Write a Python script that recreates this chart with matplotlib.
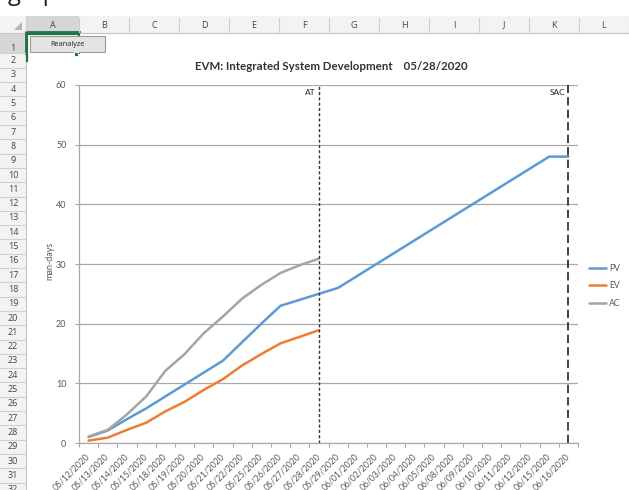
import matplotlib
import matplotlib.pyplot as plt
from matplotlib.patches import Rectangle, Polygon

matplotlib.use('Agg')

# data
dates = ["05/12/2020", "05/13/2020", "05/14/2020", "05/15/2020", "05/18/2020",
         "05/19/2020", "05/20/2020", "05/21/2020", "05/22/2020", "05/25/2020",
         "05/26/2020", "05/27/2020", "05/28/2020", "05/29/2020", "06/01/2020",
         "06/02/2020", "06/03/2020", "06/04/2020", "06/05/2020", "06/08/2020",
         "06/09/2020", "06/10/2020", "06/11/2020", "06/12/2020", "06/15/2020",
         "06/16/2020"]
pv = [1.0, 2.1, 4.0, 5.8, 7.8, 9.8, 11.8, 13.8, 16.9, 20.0, 23.0, 24.0, 25.0,
      26.0, 28.0, 30.0, 32.0, 34.0, 36.0, 38.0, 40.0, 42.0, 44.0, 46.0, 48.0, 48.0]
ev = [0.4, 0.9, 2.2, 3.4, 5.3, 6.9, 8.9, 10.7, 13.0, 14.9, 16.7, 17.8, 18.9]
ac = [1.1, 2.2, 4.8, 7.8, 12.1, 14.9, 18.4, 21.2, 24.2, 26.5, 28.5, 29.8, 30.9]
markers = {"AT": "05/28/2020", "SAC": "06/16/2020"}
yticks = [0, 10, 20, 30, 40, 50, 60]
col_letters = ["A", "B", "C", "D", "E", "F", "G", "H", "I", "J", "K", "L"]

W, H = 629, 490
fig = plt.figure(figsize=(W / 100, H / 100), dpi=100)
fig.patch.set_facecolor('white')

# --- spreadsheet backdrop, drawn in pixel coords ---
bg = fig.add_axes([0, 0, 1, 1])
bg.set_xlim(0, W)
bg.set_ylim(H, 0)
bg.axis('off')
bg.set_zorder(0)

hdr_top, hdr_bot = 16, 33
row1_bot = 53.5
row_h = 14.3
col_edges = [26, 79] + [79 + 50 * i for i in range(1, 12)]

# bit of page text cut off above the screenshot
bg.text(8, 0.5, "graph", fontsize=17, color='#222222', va='baseline', family='Open Sans')

bg.add_patch(Rectangle((0, hdr_top), W, hdr_bot - hdr_top, fc='#f3f3f3', ec='none'))
bg.add_patch(Rectangle((26, hdr_top), 53, hdr_bot - hdr_top, fc='#d6d6d6', ec='none'))
bg.plot([26, 79], [hdr_bot - 0.5, hdr_bot - 0.5], color='#217346', lw=2)
bg.plot([0, W], [hdr_bot, hdr_bot], color='#c6c6c6', lw=0.8)
bg.add_patch(Polygon([[14, 30], [22, 30], [22, 22]], closed=True, fc='#b5b5b5', ec='none'))
for x in col_edges:
    bg.plot([x, x], [hdr_top + 2, hdr_bot], color='#cfcfcf', lw=0.8)
for i, letter in enumerate(col_letters):
    xc = (col_edges[i] + col_edges[i + 1]) / 2
    bg.text(xc, 25, letter, ha='center', va='center', fontsize=6.5, color='#444444',
            family='Open Sans')

# row header column
bg.add_patch(Rectangle((0, hdr_bot), 26, H - hdr_bot, fc='#f3f3f3', ec='none'))
bg.add_patch(Rectangle((0, hdr_bot), 26, row1_bot - hdr_bot, fc='#d6d6d6', ec='none'))
bg.plot([26, 26], [hdr_bot, H], color='#c6c6c6', lw=0.8)
bg.plot([25.5, 25.5], [hdr_bot, row1_bot], color='#217346', lw=2)
bg.text(13, row1_bot - 5, "1", ha='center', va='center', fontsize=6.5, color='#444444',
        family='Open Sans')
bg.plot([0, 26], [row1_bot, row1_bot], color='#d0d0d0', lw=0.8)
for k in range(2, 33):
    top = row1_bot + (k - 2) * row_h
    bg.plot([0, 26], [top + row_h, top + row_h], color='#d0d0d0', lw=0.8)
    bg.text(13, top + row_h / 2, str(k), ha='center', va='center', fontsize=6.5,
            color='#444444', family='Open Sans')

# selected cell A1 and the macro button
bg.plot([26.5, 79, 79], [hdr_bot + 1, hdr_bot + 1, row1_bot], color='#217346', lw=1.6)
bg.plot([26.5, 26.5], [hdr_bot, row1_bot + 8], color='#217346', lw=1.6)
bg.add_patch(Rectangle((74, row1_bot - 1), 4, 4, fc='#217346', ec='white', lw=0.6, zorder=5))
bg.add_patch(Rectangle((30, 36), 75, 16, fc='#e4e4e4', ec='#9a9a9a', lw=0.8, zorder=4))
bg.text(67.5, 44, "Reanalyze", ha='center', va='center', fontsize=5.2, color='#222222',
        family='Open Sans', zorder=6)

# --- chart ---
ax = fig.add_axes([79 / W, (H - 443) / H, 499 / W, (443 - 85) / H])
ax.set_zorder(2)
ax.patch.set_alpha(0)

x_all = list(range(len(dates)))
ax.plot(x_all[:len(pv)], pv, color='#5b9bd5', lw=1.8, label='PV', solid_capstyle='round')
ax.plot(x_all[:len(ev)], ev, color='#ed7d31', lw=1.8, label='EV', solid_capstyle='round')
ax.plot(x_all[:len(ac)], ac, color='#a5a5a5', lw=1.8, label='AC', solid_capstyle='round')

at_x = dates.index(markers["AT"])
sac_x = dates.index(markers["SAC"])
ax.axvline(at_x, color='#333333', lw=1.0, linestyle=(0, (2.2, 1.6)))
ax.axvline(sac_x, color='#222222', lw=1.2, linestyle=(0, (5, 2.5)))
for name, xv in (("AT", at_x), ("SAC", sac_x)):
    ax.annotate(name, xy=(xv, 1), xycoords=('data', 'axes fraction'),
                xytext=(-2.5, -3), textcoords='offset points', ha='right', va='top',
                fontsize=6, color='#222222', family='Lato')

ax.set_xlim(-0.5, len(dates) - 0.5)
ax.set_ylim(0, 60)
ax.set_yticks(yticks)
ax.set_yticklabels([str(v) for v in yticks], family='Lato', fontsize=6.5, color='#595959')
ax.grid(axis='y', color='#a9a9a9', lw=0.9)
ax.set_axisbelow(True)

ax.set_xticks(x_all)
ax.set_xticklabels(dates, rotation=45, ha='right', va='center', rotation_mode='anchor',
                   family='Lato', fontsize=6.2, color='#595959')
ax.set_xticks([i + 0.5 for i in range(-1, len(dates))], minor=True)
ax.tick_params(axis='x', which='major', length=0, pad=9)
ax.tick_params(axis='x', which='minor', length=3, color='#a9a9a9', width=0.8)
ax.tick_params(axis='y', length=3, color='#a9a9a9', width=0.8, pad=6)

for side in ('top', 'right'):
    ax.spines[side].set_visible(False)
for side in ('left', 'bottom'):
    ax.spines[side].set_color('#a9a9a9')
    ax.spines[side].set_linewidth(0.9)

ax.set_ylabel("man-days", family='Lato', fontsize=6.5, color='#595959')
ax.yaxis.set_label_coords(-0.05, 0.51)

ax.legend(loc='center left', bbox_to_anchor=(589 / W, (H - 286) / H),
          bbox_transform=fig.transFigure, frameon=False,
          prop={'family': 'Lato', 'size': 6.2}, handlelength=2.0, handletextpad=0.3,
          labelspacing=1.0, borderpad=0, borderaxespad=0, labelcolor='#595959')

fig.text(331 / W, (H - 66) / H, "EVM: Integrated System Development    05/28/2020",
         ha='center', va='center', fontsize=8.3, fontweight='bold', color='#333333',
         family='Lato')

plt.savefig("out.png", dpi=100)
